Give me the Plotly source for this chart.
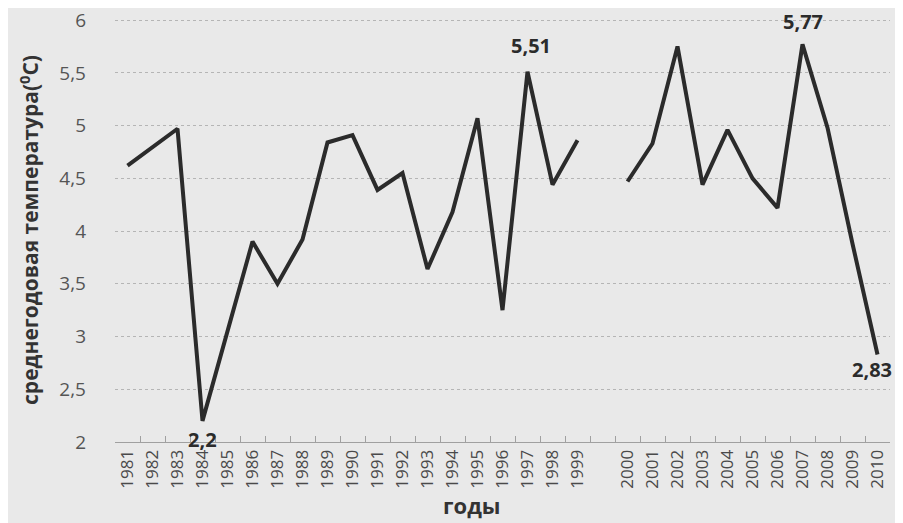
import plotly.graph_objects as go

years = [str(y) for y in range(1981, 2000)] + [" "] + [str(y) for y in range(2000, 2011)]
temps = [4.62, 4.8, 4.97, 2.2, 3.05, 3.9, 3.5, 3.92, 4.84, 4.91, 4.39, 4.55, 3.64, 4.18, 5.07, 3.25, 5.51, 4.44, 4.86,
         None,
         4.47, 4.83, 5.75, 4.44, 4.96, 4.5, 4.22, 5.77, 4.98, 3.88, 2.83]
label_years = ["1984", "1997", "2007", "2010"]
label_texts = ["2,2", "5,51", "5,77", "2,83"]
y_ticks = [2, 2.5, 3, 3.5, 4, 4.5, 5, 5.5, 6]
y_ticktext = ["2", "2,5", "3", "3,5", "4", "4,5", "5", "5,5", "6"]

fig = go.Figure()
fig.add_trace(go.Scatter(x=years, y=temps, mode="lines", connectgaps=False,
                         line=dict(color="#2b2b2b", width=4), showlegend=False))

shifts = {"1984": (0, -19), "1997": (3, 26), "2007": (0, 23), "2010": (-6, -15)}
for yr, txt in zip(label_years, label_texts):
    i = years.index(yr)
    dx, dy = shifts[yr]
    fig.add_annotation(x=i, y=temps[i], xref="x", yref="y", text=f"<b>{txt}</b>",
                       showarrow=False, xshift=dx, yshift=dy, borderpad=0,
                       font=dict(family="Open Sans, sans-serif", size=20, color="#2b2b2b"))

fig.add_annotation(x=0.46, y=0, xref="paper", yref="paper", yanchor="top",
                   yshift=-47, showarrow=False, text="<b>годы</b>", borderpad=0,
                   font=dict(family="Open Sans, sans-serif", size=22, color="#333333"))

fig.update_layout(
    width=903, height=523,
    margin=dict(l=107, r=21, t=10, b=89),
    paper_bgcolor="#e9e9e9", plot_bgcolor="#e9e9e9",
    font=dict(family="Open Sans, sans-serif", color="#555555"),
    xaxis=dict(type="category", categoryorder="array", categoryarray=years,
               tickangle=-90, tickfont=dict(size=17, color="#4a4a4a"),
               showgrid=False, showline=True, linecolor="#a0a0a0", linewidth=1,
               ticks="inside", ticklen=6, tickcolor="#a0a0a0", tickson="boundaries",
               range=[-0.5, 30.5], fixedrange=True, automargin=False),
    yaxis=dict(range=[2, 6.02], tickvals=y_ticks, ticktext=y_ticktext,
               tickfont=dict(size=19, color="#555555"), ticklabeloverflow="allow",
               showgrid=True, gridcolor="#b5b5b5", gridwidth=1, griddash="dot",
               zeroline=False, ticks="", ticklabelstandoff=28, automargin=False,
               title=dict(text="<b>среднегодовая температура(<sup>0</sup>С)</b>",
                          font=dict(size=21, color="#333333"), standoff=14)),
)

fig.write_html("out.html")
